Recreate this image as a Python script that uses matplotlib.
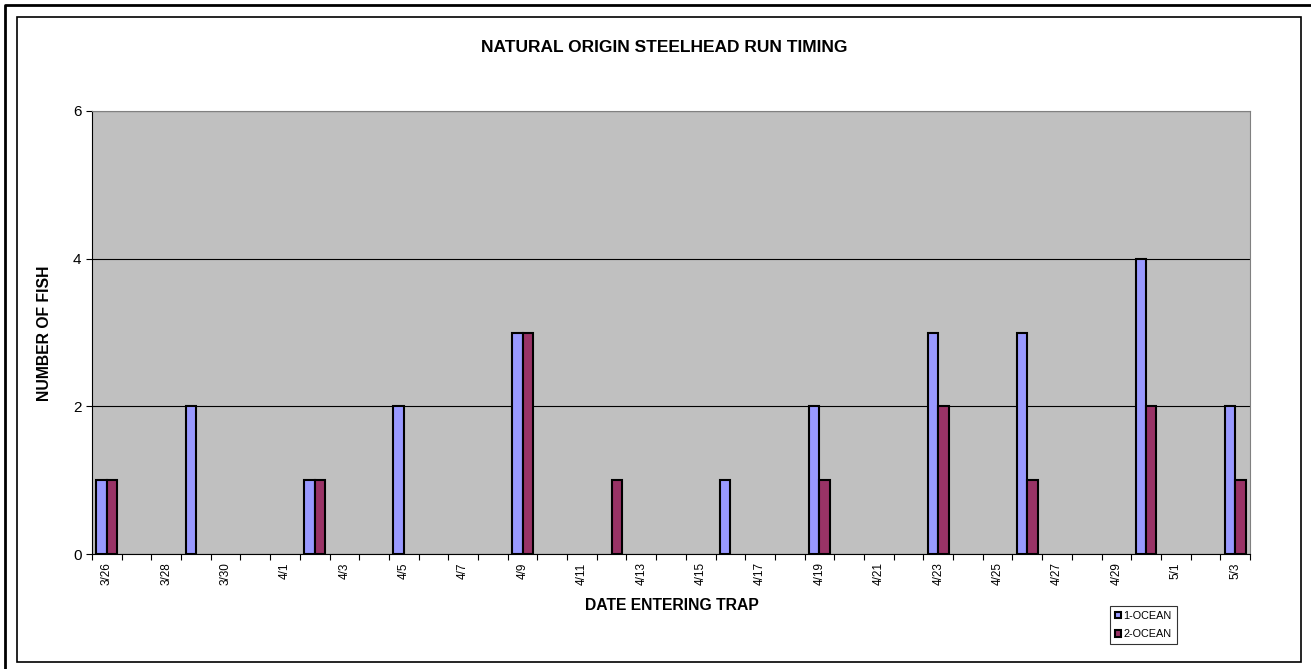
# Natural origin steelhead run timing
import numpy as np
import matplotlib
matplotlib.use("Agg")
import matplotlib.pyplot as plt
from matplotlib.lines import Line2D
from matplotlib.patches import Rectangle

plt.rcParams['font.family'] = ['Liberation Sans', 'DejaVu Sans']

# Data
dates = ["3/26", "3/27", "3/28", "3/29", "3/30", "3/31",
         "4/1", "4/2", "4/3", "4/4", "4/5", "4/6", "4/7", "4/8", "4/9", "4/10",
         "4/11", "4/12", "4/13", "4/14", "4/15", "4/16", "4/17", "4/18", "4/19",
         "4/20", "4/21", "4/22", "4/23", "4/24", "4/25", "4/26", "4/27", "4/28",
         "4/29", "4/30", "5/1", "5/2", "5/3"]
one_ocean = [1, 0, 0, 2, 0, 0, 0, 1, 0, 0, 2, 0, 0, 0, 3, 0, 0, 0, 0, 0,
             0, 1, 0, 0, 2, 0, 0, 0, 3, 0, 0, 3, 0, 0, 0, 4, 0, 0, 2]
two_ocean = [1, 0, 0, 0, 0, 0, 0, 1, 0, 0, 0, 0, 0, 0, 3, 0, 0, 1, 0, 0,
             0, 0, 0, 0, 1, 0, 0, 0, 2, 0, 0, 1, 0, 0, 0, 2, 0, 0, 1]

fig = plt.figure(figsize=(13.11, 6.69), dpi=100)
ax = fig.add_axes([92 / 1311, 1 - 554 / 669, (1250 - 92) / 1311, (554 - 111) / 669])
ax.set_facecolor('#C0C0C0')

x = np.arange(len(dates))
w = 0.35
# zero counts get no bar (Excel draws nothing there)
y1 = np.array(one_ocean, dtype=float)
y2 = np.array(two_ocean, dtype=float)
m1 = y1 > 0
m2 = y2 > 0
ax.bar(x[m1] - w / 2, y1[m1], w, color='#9999FF', edgecolor='black', linewidth=1.5,
       label='1-OCEAN', zorder=3)
ax.bar(x[m2] + w / 2, y2[m2], w, color='#993366', edgecolor='black', linewidth=1.5,
       label='2-OCEAN', zorder=3)

ax.set_xlim(-0.5, len(dates) - 0.5)
ax.set_ylim(0, 6)
ax.set_yticks([0, 2, 4, 6])
ax.tick_params(axis='y', labelsize=11, length=4, direction='out')
ax.yaxis.grid(True, color='black', linewidth=0.8, zorder=1)

# tick marks between categories, labels every 2nd date
ax.set_xticks(np.arange(len(dates) + 1) - 0.5)
ax.set_xticklabels([])
ax.tick_params(axis='x', which='major', length=4, direction='out')
ax.set_xticks(x[::2], minor=True)
ax.set_xticklabels(dates[::2], minor=True, rotation=90, fontsize=8.5)
ax.tick_params(axis='x', which='minor', length=0, pad=6)

for s in ['top', 'right']:
    ax.spines[s].set_color('#808080')
for s in ['left', 'bottom']:
    ax.spines[s].set_color('black')

fig.text(0.5066, 1 - 48 / 669, "NATURAL ORIGIN STEELHEAD RUN TIMING", ha='center', va='center',
         fontsize=12.5, fontweight='bold')
fig.text(45 / 1311, 1 - 333 / 669, "NUMBER OF FISH", ha='center', va='center',
         rotation=90, fontsize=11.3, fontweight='bold')
fig.text(672 / 1311, 1 - 605 / 669, "DATE ENTERING TRAP", ha='center', va='center',
         fontsize=11.3, fontweight='bold')

leg = fig.legend(loc='upper left', bbox_to_anchor=(1110 / 1311, 1 - 606 / 669), fontsize=7.8,
                 frameon=True, fancybox=False, edgecolor='black', handlelength=0.6,
                 handleheight=0.6, handletextpad=0.2, borderpad=0.45, labelspacing=0.75,
                 borderaxespad=0)
leg.get_frame().set_linewidth(0.8)

# outer frames: page border (left/top only visible) and chart area border
fig.add_artist(Line2D([5 / 1311, 5 / 1311, 1.0], [0, 1 - 5 / 669, 1 - 5 / 669],
                      transform=fig.transFigure, color='black', linewidth=2))
fig.patches.append(Rectangle((17 / 1311, 1 - 662 / 669), (1301 - 17) / 1311, (662 - 17) / 669,
                             transform=fig.transFigure, fill=False, edgecolor='black',
                             linewidth=1.2))

fig.savefig("out.png", dpi=100)
